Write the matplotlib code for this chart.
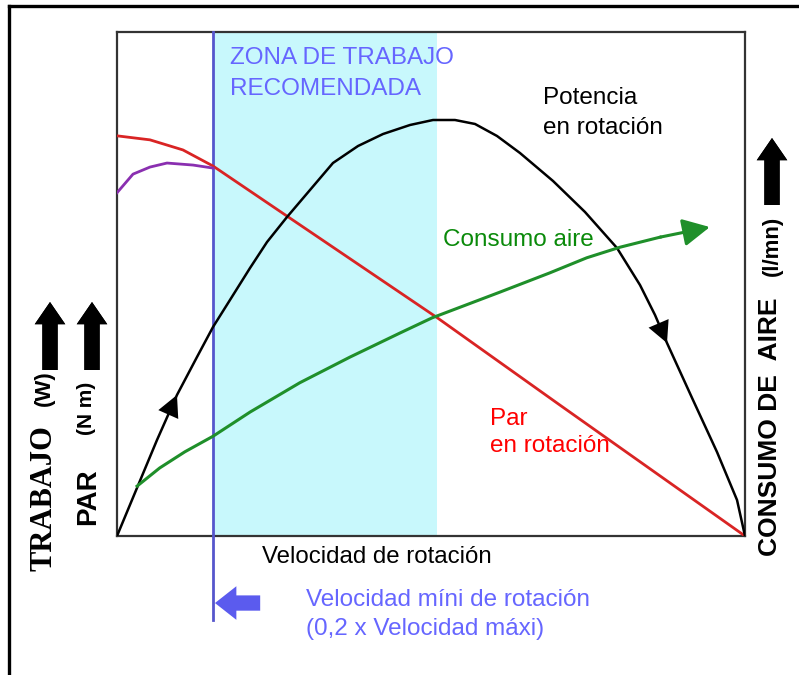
import matplotlib.pyplot as plt
from matplotlib.lines import Line2D

plt.rcParams['font.family'] = ['Liberation Sans', 'DejaVu Sans']

# -------------------------
#  datos (velocidad relativa 0..1, magnitud relativa 0..1)
# -------------------------
# par en rotación (rojo)
par_x = [0.0, 0.0525, 0.105, 0.153, 0.268, 0.510, 0.705, 1.0]
par_y = [0.794, 0.786, 0.766, 0.734, 0.637, 0.433, 0.260, 0.0]

# curva violeta (zona de baja velocidad)
vio_x = [0.0, 0.0255, 0.0525, 0.0796, 0.121, 0.153]
vio_y = [0.681, 0.718, 0.732, 0.740, 0.736, 0.730]

# potencia en rotación (negro)
pot_x = [0.0, 0.0318, 0.0637, 0.0955, 0.1274, 0.1529, 0.1799, 0.2118, 0.2389, 0.2707,
         0.3073, 0.3439, 0.3838, 0.4236, 0.4666, 0.5032, 0.5382, 0.5701, 0.6051, 0.6417,
         0.6943, 0.7452, 0.7962, 0.8328, 0.8567, 0.8758, 0.9172, 0.9554, 0.9873, 1.0]
pot_y = [0.0, 0.0952, 0.1905, 0.2798, 0.3552, 0.4147, 0.4683, 0.5317, 0.5833, 0.6329,
         0.6865, 0.7401, 0.7738, 0.7976, 0.8155, 0.8254, 0.8254, 0.8175, 0.7937, 0.7599,
         0.7044, 0.6429, 0.5714, 0.4980, 0.4385, 0.3829, 0.2698, 0.1667, 0.0714, 0.0]

# consumo de aire (verde)
aire_x = [0.032, 0.068, 0.108, 0.153, 0.212, 0.291, 0.371, 0.451, 0.502,
          0.610, 0.689, 0.748, 0.801, 0.865, 0.944]
aire_y = [0.099, 0.135, 0.167, 0.198, 0.246, 0.304, 0.355, 0.403, 0.433,
          0.484, 0.522, 0.552, 0.573, 0.593, 0.613]

zona_ini = 0.153
zona_fin = 0.510

C_CYAN = '#c8f8fc'
C_AZUL = '#5656cc'
C_TXT_AZUL = '#6666ff'
C_ROJO = '#d92424'
C_VERDE = '#1f8f2a'

fig = plt.figure(figsize=(7.99, 6.75), dpi=100)
ax = fig.add_axes([117/799, 1-536/675, 628/799, 504/675])
ax.set_xlim(0, 1)
ax.set_ylim(0, 1)
ax.set_xticks([])
ax.set_yticks([])
for s in ax.spines.values():
    s.set_color('#333333')
    s.set_linewidth(1.6)

# zona de trabajo recomendada
ax.axvspan(zona_ini, zona_fin, color=C_CYAN, lw=0, zorder=0)
ax.plot([zona_ini, zona_ini], [-0.167, 1.0], color=C_AZUL, lw=2, clip_on=False, zorder=3)

# curvas
ax.plot(par_x, par_y, color=C_ROJO, lw=2, zorder=4)
ax.plot(vio_x, vio_y, color='#8a2fb0', lw=2, zorder=4)
ax.plot(pot_x, pot_y, color='black', lw=1.8, zorder=4)
ax.plot(aire_x[:-1], aire_y[:-1], color=C_VERDE, lw=2.2, zorder=4)

# flechas sobre las curvas
punta = '-|>,head_length=0.55,head_width=0.28'
for i in [3, 25]:
    ax.annotate('', xy=(pot_x[i], pot_y[i]), xytext=(pot_x[i-1], pot_y[i-1]),
                arrowprops=dict(arrowstyle=punta, color='black', lw=0,
                                mutation_scale=28, shrinkA=0, shrinkB=0), zorder=5)
ax.annotate('', xy=(aire_x[-1], aire_y[-1]), xytext=(aire_x[-2], aire_y[-2]),
            arrowprops=dict(arrowstyle=punta, color=C_VERDE, lw=2.2,
                            mutation_scale=30, shrinkA=0, shrinkB=0), zorder=5)

# flecha azul de velocidad mínima
ax.annotate('', xy=(zona_ini + 0.003, -0.133), xytext=(0.228, -0.133),
            annotation_clip=False,
            arrowprops=dict(arrowstyle='simple,head_width=1.1,head_length=0.7,tail_width=0.5',
                            color='#5b5bee', lw=0, mutation_scale=22, shrinkA=0, shrinkB=0))

# textos dentro del gráfico
fs = 17.5
fig.text(230/799, 1-47/675, 'ZONA DE TRABAJO\nRECOMENDADA', color=C_TXT_AZUL,
         fontsize=fs, va='top', ha='left', linespacing=1.55)
fig.text(543/799, 1-87/675, 'Potencia\nen rotación', color='black',
         fontsize=fs, va='top', ha='left', linespacing=1.5)
fig.text(443/799, 1-229/675, 'Consumo aire', color='#0a8a0a',
         fontsize=fs, va='top', ha='left')
fig.text(490/799, 1-408/675, 'Par\nen rotación', color='#ff0000',
         fontsize=fs, va='top', ha='left', linespacing=1.3)
fig.text(262/799, 1-546/675, 'Velocidad de rotación', color='black',
         fontsize=17.3, va='top', ha='left')
fig.text(306/799, 1-589/675, 'Velocidad míni de rotación\n(0,2 x Velocidad máxi)',
         color=C_TXT_AZUL, fontsize=fs, va='top', ha='left', linespacing=1.4)

# etiquetas de ejes (izquierda)
fig.text(44/799, 1-498/675, 'TRABAJO', family='Liberation Serif', weight='bold',
         fontsize=22, rotation=90, ha='center', va='center')
fig.text(44/799, 1-388/675, '(W)', weight='bold', fontsize=16,
         rotation=90, ha='center', va='center')
fig.text(88/799, 1-497/675, 'PAR', weight='bold', fontsize=20,
         rotation=90, ha='center', va='center')
fig.text(87/799, 1-408/675, '(N m)', weight='bold', fontsize=15,
         rotation=90, ha='center', va='center')

# etiqueta derecha
fig.text(770/799, 1-427/675, 'CONSUMO DE  AIRE', weight='bold', fontsize=19,
         rotation=90, ha='center', va='center')
fig.text(772/799, 1-246/675, '(l/mn)', weight='bold', fontsize=16,
         rotation=90, ha='center', va='center')

# flechas negras gruesas
flecha = 'simple,head_width=1.1,head_length=0.8,tail_width=0.55'
for fx, y0, y1 in [(50, 370, 302), (92, 370, 302), (772, 205, 138)]:
    fig.add_artist(plt.annotate('', xy=(fx, 675 - y1), xytext=(fx, 675 - y0),
                                xycoords='figure pixels', textcoords='figure pixels',
                                arrowprops=dict(arrowstyle=flecha, color='black', lw=0,
                                                mutation_scale=20, shrinkA=0, shrinkB=0)))

# marco exterior
fig.add_artist(Line2D([9/799, 1.0], [1-6/675, 1-6/675], color='black', lw=2.4,
                      transform=fig.transFigure))
fig.add_artist(Line2D([9/799, 9/799], [0.0, 1-6/675], color='black', lw=2.4,
                      transform=fig.transFigure))

fig.savefig('out.png', dpi=100)
